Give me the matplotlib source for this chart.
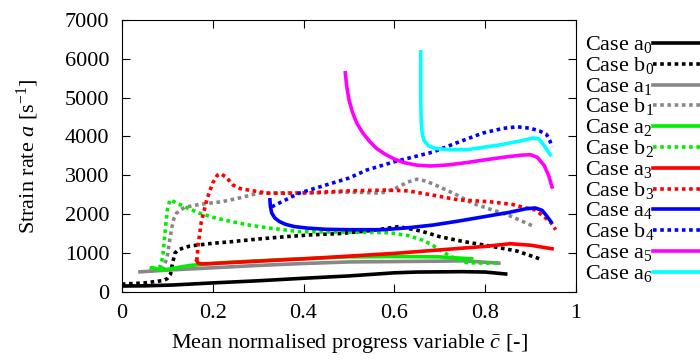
import numpy as np
import matplotlib
matplotlib.use("Agg")
import matplotlib.pyplot as plt
from matplotlib.lines import Line2D

plt.rcParams['font.family'] = ['Liberation Serif', 'DejaVu Serif']
plt.rcParams['mathtext.fontset'] = 'custom'
plt.rcParams['mathtext.rm'] = 'Liberation Serif'
plt.rcParams['mathtext.it'] = 'Liberation Serif:italic'

## data (c-bar, strain rate)
a0_x = [0.0, 0.05, 0.11, 0.2, 0.3, 0.4, 0.5, 0.6, 0.65, 0.7, 0.75, 0.8, 0.845]
a0_y = [150, 155, 175, 230, 285, 350, 410, 490, 510, 515, 520, 510, 460]

b0_x = [0.0, 0.05, 0.09, 0.1, 0.107, 0.112, 0.117, 0.125, 0.15, 0.2, 0.24, 0.3, 0.36, 0.42,
        0.48, 0.55, 0.61, 0.66, 0.7, 0.75, 0.81, 0.87, 0.92]
b0_y = [200, 230, 290, 340, 450, 750, 1000, 1090, 1180, 1250, 1290, 1360, 1420, 1470,
        1500, 1580, 1680, 1560, 1420, 1300, 1180, 1050, 850]

a1_x = [0.04, 0.1, 0.2, 0.3, 0.4, 0.5, 0.6, 0.7, 0.75, 0.83]
a1_y = [515, 560, 620, 680, 730, 770, 780, 790, 800, 740]

b1_x = [0.09, 0.1, 0.105, 0.11, 0.115, 0.12, 0.13, 0.14, 0.17, 0.22, 0.26, 0.3, 0.37, 0.44,
        0.48, 0.53, 0.57, 0.6, 0.63, 0.65, 0.67, 0.7, 0.74, 0.77, 0.81, 0.85, 0.91]
b1_y = [560, 900, 1300, 1650, 1900, 2020, 2120, 2180, 2250, 2320, 2420, 2540, 2550, 2550,
        2570, 2560, 2540, 2650, 2830, 2900, 2850, 2700, 2480, 2290, 2130, 1980, 1670]

a2_x = [0.065, 0.09, 0.15, 0.22, 0.35, 0.5, 0.6, 0.7, 0.77]
a2_y = [620, 560, 680, 750, 830, 900, 910, 900, 850]

b2_x = [0.065, 0.085, 0.09, 0.095, 0.1, 0.106, 0.115, 0.14, 0.17, 0.2, 0.245, 0.28, 0.32,
        0.39, 0.48, 0.55, 0.59, 0.63, 0.66, 0.68, 0.7, 0.72, 0.74, 0.76, 0.8, 0.83]
b2_y = [600, 650, 900, 1500, 2100, 2370, 2320, 2180, 2030, 1920, 1800, 1720, 1650,
        1550, 1540, 1530, 1520, 1450, 1340, 1230, 1080, 940, 820, 750, 740, 750]

a3_x = [0.165, 0.168, 0.175, 0.2, 0.3, 0.4, 0.5, 0.6, 0.7, 0.8, 0.855, 0.9, 0.947]
a3_y = [800, 740, 720, 730, 790, 850, 920, 990, 1080, 1170, 1240, 1200, 1110]

b3_x = [0.165, 0.168, 0.175, 0.187, 0.2, 0.21, 0.218, 0.23, 0.245, 0.26, 0.28, 0.3, 0.32,
        0.39, 0.5, 0.58, 0.63, 0.68, 0.74, 0.81, 0.86, 0.89, 0.91, 0.93, 0.945, 0.955]
b3_y = [800, 1200, 1800, 2370, 2800, 3000, 3040, 2950, 2750, 2660, 2620, 2580, 2540,
        2540, 2600, 2620, 2600, 2500, 2370, 2320, 2250, 2160, 2110, 1930, 1780, 1600]

a4_x = [0.326, 0.327, 0.33, 0.337, 0.347, 0.36, 0.38, 0.41, 0.45, 0.5, 0.575, 0.63, 0.685,
        0.74, 0.795, 0.85, 0.89, 0.91, 0.925, 0.935, 0.945]
a4_y = [2370, 2200, 2030, 1900, 1810, 1740, 1680, 1640, 1610, 1600, 1600, 1650, 1720,
        1820, 1930, 2040, 2140, 2160, 2100, 1960, 1800]

b4_x = [0.33, 0.39, 0.5, 0.54, 0.6, 0.685, 0.74, 0.795, 0.84, 0.87, 0.9, 0.92, 0.935, 0.942, 0.947]
b4_y = [2190, 2540, 2930, 3140, 3350, 3600, 3850, 4090, 4210, 4250, 4210, 4140, 4050, 3900, 3730]

a5_x = [0.492, 0.495, 0.5, 0.507, 0.517, 0.53, 0.545, 0.56, 0.58, 0.6, 0.62, 0.65, 0.68, 0.72,
        0.76, 0.8, 0.85, 0.88, 0.9, 0.915, 0.93, 0.94, 0.947]
a5_y = [5640, 5300, 4950, 4650, 4350, 4100, 3880, 3700, 3540, 3420, 3330, 3260, 3240, 3270,
        3330, 3400, 3480, 3520, 3530, 3460, 3250, 2980, 2700]

a6_x = [0.658, 0.658, 0.659, 0.661, 0.665, 0.675, 0.69, 0.72, 0.76, 0.83, 0.88, 0.905, 0.918,
        0.93, 0.943]
a6_y = [6180, 5000, 4400, 4100, 3900, 3760, 3690, 3660, 3660, 3780, 3890, 3960, 3940,
        3760, 3530]

labels = ["Case a$_0$", "Case b$_0$", "Case a$_1$", "Case b$_1$", "Case a$_2$", "Case b$_2$",
          "Case a$_3$", "Case b$_3$", "Case a$_4$", "Case b$_4$", "Case a$_5$", "Case a$_6$"]
xs_all = [a0_x, b0_x, a1_x, b1_x, a2_x, b2_x, a3_x, b3_x, a4_x, b4_x, a5_x, a6_x]
ys_all = [a0_y, b0_y, a1_y, b1_y, a2_y, b2_y, a3_y, b3_y, a4_y, b4_y, a5_y, a6_y]
colors = ["black", "black", "#888888", "#888888", "#00ee00", "#00ee00",
          "#ff0000", "#ff0000", "#0000ff", "#0000ff", "#ff00ff", "#00ffff"]
dotted = [False, True, False, True, False, True, False, True, False, True, False, False]

W, H = 700, 363
fig = plt.figure(figsize=(7.0, 3.63), dpi=100)
ax = fig.add_axes([0.174, 0.196, 0.649, 0.749])

for i in range(len(labels)):
    ls = (0, (1, 1)) if dotted[i] else "-"
    ax.plot(xs_all[i], ys_all[i], color=colors[i], lw=2.6, linestyle=ls,
            dash_capstyle="butt")

ax.set_xlim(0, 1)
ax.set_ylim(0, 7000)
ax.set_xticks([0, 0.2, 0.4, 0.6, 0.8, 1])
ax.set_xticklabels(["0", "0.2", "0.4", "0.6", "0.8", "1"])
ax.set_yticks(np.arange(0, 7001, 1000))
ax.tick_params(direction="in", top=True, right=True, length=6, labelsize=16, pad=9)
ax.set_xlabel(r"Mean normalised progress variable $\bar{c}$ [-]", fontsize=16, labelpad=6)
ax.set_ylabel(r"Strain rate $a$ [s$^{-1}$]", fontsize=16, labelpad=17)

## gnuplot-style key outside on the right: text first, then line sample
for i in range(len(labels)):
    yc = 43 + i * 20.8
    fig.text(585 / W, 1 - (yc + 7) / H, labels[i], fontsize=16, ha="left", va="baseline")
    ls = (0, (1, 1)) if dotted[i] else "-"
    fig.add_artist(Line2D([653 / W, 700 / W], [1 - yc / H, 1 - yc / H], color=colors[i],
                          lw=2.6, linestyle=ls, dash_capstyle="butt",
                          transform=fig.transFigure))

plt.savefig("out.png", dpi=100)
